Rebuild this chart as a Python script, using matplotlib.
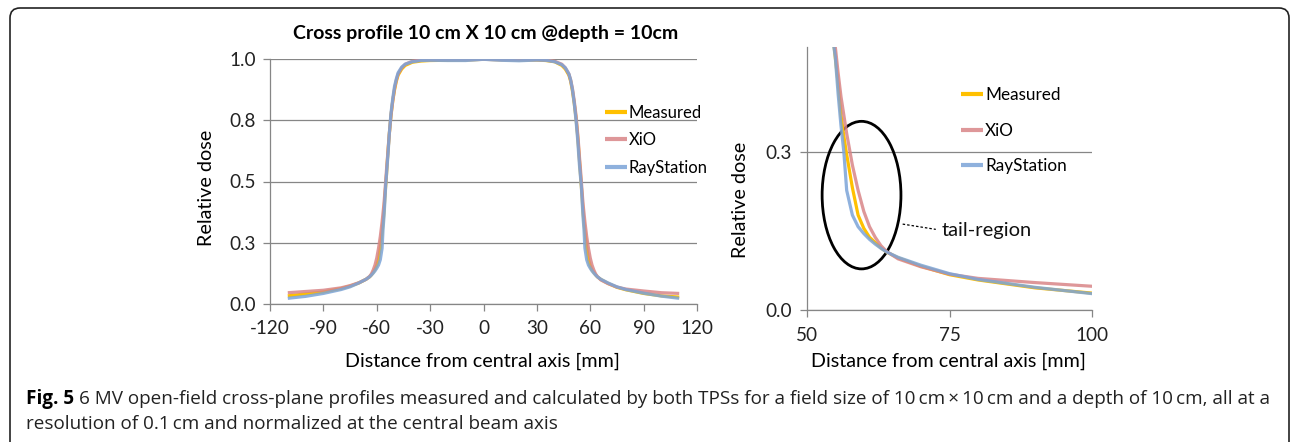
import matplotlib
matplotlib.use('Agg')
import matplotlib.pyplot as plt
from matplotlib.patches import Ellipse, FancyBboxPatch
from matplotlib.transforms import IdentityTransform

# ---------------- data ----------------
x_mm = [-110, -100, -90, -80, -75, -70, -66, -64, -63, -62, -61, -60, -59, -58, -57, -56.5,
        -56, -55.5, -55, -54.5, -54, -53.5, -53, -52, -51, -50, -49, -48, -46, -44, -40, -35,
        -30, -20, -10, 0, 10, 20, 30, 35, 40, 44, 46, 48, 49, 50, 51, 52, 53, 53.5, 54, 54.5,
        55, 55.5, 56, 56.5, 57, 58, 59, 60, 61, 62, 63, 64, 66, 70, 75, 80, 90, 100, 110]

measured = [0.032, 0.040, 0.048, 0.062, 0.072, 0.085, 0.100, 0.110, 0.118, 0.128, 0.140, 0.157,
            0.180, 0.230, 0.290, 0.330, 0.370, 0.430, 0.480, 0.530, 0.590, 0.640, 0.690, 0.770,
            0.830, 0.875, 0.910, 0.935, 0.960, 0.975, 0.988, 0.993, 0.995, 0.996, 0.997, 1.000,
            0.998, 0.997, 0.997, 0.995, 0.990, 0.975, 0.960, 0.935, 0.910, 0.870, 0.820, 0.760,
            0.680, 0.630, 0.580, 0.530, 0.480, 0.430, 0.370, 0.330, 0.295, 0.232, 0.180, 0.155,
            0.138, 0.128, 0.118, 0.110, 0.099, 0.083, 0.067, 0.057, 0.042, 0.032, 0.027]

xio = [0.045, 0.050, 0.055, 0.065, 0.074, 0.086, 0.100, 0.112, 0.122, 0.138, 0.158, 0.187,
       0.227, 0.275, 0.335, 0.370, 0.405, 0.450, 0.500, 0.550, 0.595, 0.645, 0.690, 0.770,
       0.830, 0.880, 0.915, 0.940, 0.965, 0.980, 0.992, 0.997, 0.998, 0.998, 0.998, 1.000,
       0.998, 0.998, 0.998, 0.997, 0.992, 0.980, 0.965, 0.940, 0.915, 0.880, 0.830, 0.770,
       0.690, 0.645, 0.595, 0.550, 0.500, 0.450, 0.405, 0.370, 0.335, 0.275, 0.227, 0.187,
       0.158, 0.138, 0.122, 0.111, 0.097, 0.082, 0.068, 0.060, 0.052, 0.045, 0.042]

raystation = [0.022, 0.030, 0.042, 0.058, 0.069, 0.085, 0.100, 0.110, 0.117, 0.125, 0.134, 0.145,
              0.158, 0.180, 0.227, 0.300, 0.350, 0.410, 0.480, 0.530, 0.580, 0.630, 0.690, 0.780,
              0.840, 0.890, 0.920, 0.945, 0.968, 0.980, 0.990, 0.995, 0.996, 0.995, 0.995, 1.000,
              0.996, 0.994, 0.997, 0.996, 0.990, 0.978, 0.965, 0.940, 0.915, 0.875, 0.820, 0.750,
              0.665, 0.610, 0.560, 0.520, 0.480, 0.410, 0.350, 0.300, 0.227, 0.180, 0.158, 0.145,
              0.134, 0.125, 0.117, 0.110, 0.100, 0.085, 0.069, 0.058, 0.043, 0.031, 0.022]

series_names = ['Measured', 'XiO', 'RayStation']
series_values = [measured, xio, raystation]

left_xticks = [-120, -90, -60, -30, 0, 30, 60, 90, 120]
left_yticks = [0.0, 0.25, 0.5, 0.75, 1.0]
left_ytick_labels = ['0.0', '0.3', '0.5', '0.8', '1.0']
right_xticks = [50, 75, 100]
right_yticks = [0.0, 0.3]
right_ytick_labels = ['0.0', '0.3']

title = 'Cross profile 10 cm X 10 cm @depth = 10cm'
xlabel = 'Distance from central axis [mm]'
ylabel = 'Relative dose'
caption_bold = 'Fig. 5'
caption_line1 = ('6 MV open-field cross-plane profiles measured and calculated by both TPSs for a field '
                 'size of 10\u2009cm\u2009\u00d7\u200910\u2009cm and a depth of 10\u2009cm, all at a')
caption_line2 = 'resolution of 0.1\u2009cm and normalized at the central beam axis'

# ---------------- style ----------------
colors = ['#FFC000', '#D98587', '#7BA4D8']
alphas = [1.0, 0.85, 0.85]
axis_gray = '#868686'
chart_font = ['Lato', 'DejaVu Sans']
caption_font = ['Open Sans', 'DejaVu Sans']
plt.rcParams['font.family'] = chart_font

W, H = 1292, 442
fig = plt.figure(figsize=(W / 100, H / 100), dpi=100)


def fx(px):
    return px / W


def fy(py):
    return 1 - py / H


def style_axes(ax):
    for s in ['top', 'right']:
        ax.spines[s].set_visible(False)
    for s in ['left', 'bottom']:
        ax.spines[s].set_color(axis_gray)
        ax.spines[s].set_linewidth(0.9)
    ax.tick_params(direction='out', length=5, width=0.9, color=axis_gray,
                   labelsize=13.6, labelcolor='#222222')
    ax.grid(axis='y', color=axis_gray, lw=0.9)
    ax.set_axisbelow(True)
    ax.set_facecolor('none')


# left chart
ax1 = fig.add_axes([fx(270), fy(303.7), (697 - 270) / W, (303.7 - 59.3) / H])
style_axes(ax1)
for vals, c, a, n in zip(series_values, colors, alphas, series_names):
    ax1.plot(x_mm, vals, color=c, lw=2.3, alpha=a, label=n, solid_capstyle='butt')
ax1.set_xlim(-120, 120)
ax1.set_ylim(0, 1)
ax1.set_xticks(left_xticks)
ax1.set_xticklabels([str(t) for t in left_xticks])
ax1.set_yticks(left_yticks)
ax1.set_yticklabels(left_ytick_labels)
ax1.tick_params(axis='x', pad=7)
ax1.tick_params(axis='y', pad=5)
leg1 = ax1.legend(loc='upper left', bbox_to_anchor=(fx(605), fy(105)), bbox_transform=fig.transFigure,
                  frameon=False, fontsize=12, handlelength=1.3, handletextpad=0.1,
                  labelspacing=0.68, borderpad=0, borderaxespad=0)
for lh in leg1.get_lines():
    lh.set_linewidth(3)

# right chart
ax2 = fig.add_axes([fx(806.7), fy(310), (1092.3 - 806.7) / W, (310 - 46.5) / H])
style_axes(ax2)
for vals, c, a, n in zip(series_values, colors, alphas, series_names):
    ax2.plot(x_mm, vals, color=c, lw=2.3, alpha=a, label=n, solid_capstyle='butt')
ax2.set_xlim(50, 100)
ax2.set_ylim(0, 0.5)
ax2.set_xticks(right_xticks)
ax2.set_xticklabels([str(t) for t in right_xticks])
ax2.set_yticks(right_yticks)
ax2.set_yticklabels(right_ytick_labels)
ax2.tick_params(axis='x', pad=7)
ax2.tick_params(axis='y', pad=6)
leg2 = ax2.legend(loc='upper left', bbox_to_anchor=(fx(961), fy(87)), bbox_transform=fig.transFigure,
                  frameon=False, fontsize=12.3, handlelength=1.3, handletextpad=0.1,
                  labelspacing=1.15, borderpad=0, borderaxespad=0)
for lh in leg2.get_lines():
    lh.set_linewidth(3)

# tail-region annotation
ax2.add_patch(Ellipse((59.6, 0.218), 13.8, 0.28, fill=False, ec='black', lw=2.0, clip_on=False))
ax2.plot([66.8, 72.6], [0.163, 0.153], color='black', lw=0.9, ls=(0, (2, 1.6)))
ax2.text(73.7, 0.151, 'tail-region', fontsize=14.5, va='center', ha='left', color='#111111')

# titles / labels
fig.text(fx(486), fy(33), title, ha='center', va='center', fontsize=14, fontweight='bold')
fig.text(fx(482), fy(361), xlabel, ha='center', va='center', fontsize=14.2)
fig.text(fx(948), fy(361), xlabel, ha='center', va='center', fontsize=14.2)
fig.text(fx(206), fy(188), ylabel, ha='center', va='center', fontsize=14.2, rotation=90)
fig.text(fx(741), fy(200), ylabel, ha='center', va='center', fontsize=14.2, rotation=90)

# frame
frame = FancyBboxPatch((10, -30), 1279, H - 8 + 30, boxstyle='round,pad=0,rounding_size=10',
                       transform=IdentityTransform(), fill=False, ec='#222222', lw=1.2)
fig.add_artist(frame)

# caption
renderer = fig.canvas.get_renderer()
cap_fs = 12.0
tb = fig.text(fx(26), fy(399), caption_bold, ha='left', va='center', fontsize=cap_fs,
              fontweight='bold', family=caption_font)
bb = tb.get_window_extent(renderer)
t1 = fig.text((bb.x1 + 5) / W, fy(399), caption_line1, ha='left', va='center', fontsize=cap_fs,
              family=caption_font, color='#222222')
b1 = t1.get_window_extent(renderer)
target = 1267
scale = (target - 26) / (b1.x1 - 26)
cap_fs *= scale
tb.set_fontsize(cap_fs)
bb = tb.get_window_extent(renderer)
t1.set_fontsize(cap_fs)
t1.set_x((bb.x1 + 5) / W)
fig.text(fx(26), fy(424), caption_line2, ha='left', va='center', fontsize=cap_fs,
         family=caption_font, color='#222222')

fig.savefig('out.png', dpi=100)
